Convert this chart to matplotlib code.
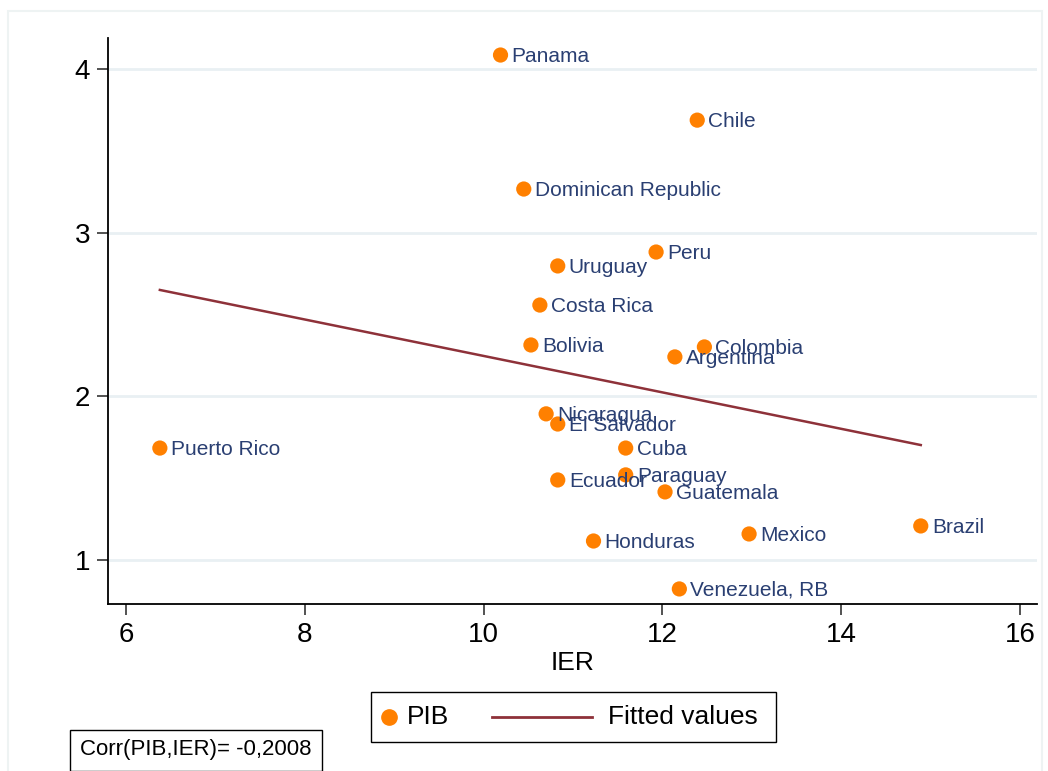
import numpy as np
import matplotlib
matplotlib.use('Agg')
import matplotlib.pyplot as plt
from matplotlib.lines import Line2D
from matplotlib.patches import Rectangle

plt.rcParams['font.family'] = ['Liberation Sans', 'DejaVu Sans']

# --- Data ---
countries = ['Panama', 'Chile', 'Dominican Republic', 'Peru', 'Uruguay',
             'Costa Rica', 'Bolivia', 'Colombia', 'Argentina', 'Nicaragua',
             'El Salvador', 'Puerto Rico', 'Cuba', 'Paraguay', 'Ecuador',
             'Guatemala', 'Brazil', 'Mexico', 'Honduras', 'Venezuela, RB']
ier = [10.19, 12.39, 10.45, 11.93, 10.83,
       10.63, 10.53, 12.47, 12.14, 10.70,
       10.83, 6.38, 11.59, 11.59, 10.83,
       12.03, 14.89, 12.97, 11.23, 12.19]
pib = [4.086, 3.688, 3.267, 2.882, 2.797,
       2.558, 2.314, 2.302, 2.241, 1.893,
       1.831, 1.684, 1.684, 1.520, 1.489,
       1.416, 1.208, 1.159, 1.116, 0.823]
legend_labels = ['PIB', 'Fitted values']
corr_text = 'Corr(PIB,IER)= -0,2008'

orange = '#ff8000'
maroon = '#8e3139'
navy = '#2a3f72'

x = np.array(ier)
y = np.array(pib)
b, a = np.polyfit(x, y, 1)
xf = np.array([x.min(), x.max()])
yf = a + b * xf

W, H = 1048, 771

# --- Plot ---
fig = plt.figure(figsize=(W / 100, H / 100), dpi=100)
ax = fig.add_axes([108 / W, 1 - 604 / H, (1037 - 108) / W, (604 - 38) / H])

for v in [1, 2, 3, 4]:
    ax.axhline(v, color='#e9f0f3', lw=2, zorder=0)

ax.plot(xf, yf, color=maroon, lw=1.8, zorder=2)
ax.scatter(x, y, s=120, color=orange, edgecolors='none', zorder=3)
for name, xi, yi in zip(countries, ier, pib):
    ax.annotate(name, (xi, yi), xytext=(8, -1), textcoords='offset points',
                ha='left', va='center', fontsize=15, color=navy, zorder=4)

ax.set_xlim(5.80, 16.19)
ax.set_ylim(0.731, 4.19)
ax.set_xticks([6, 8, 10, 12, 14, 16])
ax.set_yticks([1, 2, 3, 4])
ax.tick_params(labelsize=20, length=8, width=1.3, color='#444444', pad=5)
ax.set_xlabel('IER', fontsize=19, labelpad=2)

for s in ['top', 'right']:
    ax.spines[s].set_visible(False)
for s in ['left', 'bottom']:
    ax.spines[s].set_linewidth(1.3)

# legend box drawn by hand (marker close to its text, long line sample)
ly = 1 - 717 / H
fig.patches.append(Rectangle((371 / W, 1 - 742 / H), (776 - 371) / W, 50 / H,
                             transform=fig.transFigure, fill=False,
                             ec='black', lw=1.0))
fig.add_artist(Line2D([389 / W], [ly], marker='o', ls='none', color=orange,
                      markersize=11, transform=fig.transFigure))
fig.text(407 / W, ly, legend_labels[0], fontsize=19, va='center', ha='left')
fig.add_artist(Line2D([492 / W, 592 / W], [ly, ly], color=maroon, lw=2,
                      transform=fig.transFigure))
fig.text(608 / W, ly, legend_labels[1], fontsize=19, va='center', ha='left')

fig.text(80 / W, 1 - 750 / H, corr_text, fontsize=16, va='center', ha='left',
         bbox=dict(boxstyle='square,pad=0.45', fc='white', ec='black', lw=1.0))

fig.patches.append(Rectangle((8 / W, -0.01), (1042 - 8) / W, 1 - 11 / H + 0.01,
                             transform=fig.transFigure, fill=False,
                             ec='#eef3f3', lw=1.5))

fig.savefig('out.png', dpi=100)
